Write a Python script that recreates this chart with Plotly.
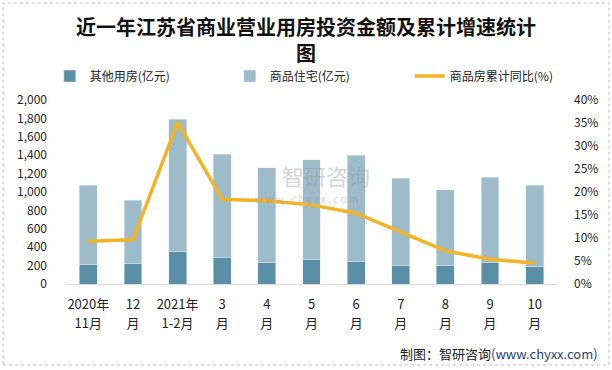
import plotly.graph_objects as go

categories = ["2020年<br>11月", "12<br>月", "2021年<br>1-2月", "3<br>月", "4<br>月", "5<br>月",
              "6<br>月", "7<br>月", "8<br>月", "9<br>月", "10<br>月"]
other_use = [217, 228, 348, 293, 239, 261, 250, 196, 206, 232, 185]
residential = [859, 685, 1445, 1120, 1022, 1087, 1152, 956, 816, 931, 888]
growth_pct = [9.3, 9.6, 35.1, 18.4, 18.1, 17.2, 15.4, 11.4, 7.2, 5.4, 4.5]

left_ticks = list(range(0, 2001, 200))
right_ticks = [0, 5, 10, 15, 20, 25, 30, 35, 40]
right_labels = [f"{v}%" for v in right_ticks]

FONT = "Noto Sans CJK SC"


def small(label):
    return "<br>".join(f"<span style='font-size:13px'>{part}</span>"
                       for part in label.split("<br>"))


x_ticktext = [small(c) for c in categories]

fig = go.Figure()
fig.add_trace(go.Bar(x=categories, y=other_use, name="其他用房(亿元)",
                     marker_color="#5B8FA7", width=0.4))
fig.add_trace(go.Bar(x=categories, y=residential, name="商品住宅(亿元)",
                     marker_color="#9DBBC9", width=0.4))
fig.add_trace(go.Scatter(x=categories, y=growth_pct, name="商品房累计同比(%)",
                         mode="lines", line=dict(color="#F2B325", width=3.5),
                         yaxis="y2"))

fig.update_layout(
    width=612, height=370,
    barmode="stack",
    paper_bgcolor="white", plot_bgcolor="white",
    font=dict(family=FONT, size=12, color="#222222"),
    margin=dict(l=66, r=55, t=100, b=86, autoexpand=False),
    title=dict(text="<b>近一年江苏省商业营业用房投资金额及累计增速统计<br>图</b>",
               x=0.5, xanchor="center", y=0.905, yanchor="top",
               font=dict(family=FONT, size=20, color="#111111")),
    showlegend=True,
    legend=dict(orientation="h", xref="paper", x=-0.033, xanchor="left",
                y=1.13, yanchor="middle",
                entrywidth=135, entrywidthmode="pixels", traceorder="normal",
                font=dict(size=12), bgcolor="rgba(0,0,0,0)"),
    xaxis=dict(showline=True, linecolor="#D9D9D9", linewidth=1, ticks="",
               showgrid=False, tickfont=dict(size=14.5), ticklabelstandoff=7,
               tickvals=categories, ticktext=x_ticktext),
    yaxis=dict(range=[0, 2000], tickvals=left_ticks, tickformat=",",
               showgrid=False, zeroline=False, showline=False,
               ticklabelstandoff=18, tickfont=dict(size=12)),
    yaxis2=dict(range=[0, 40], tickvals=right_ticks, ticktext=right_labels,
                overlaying="y", side="right", showgrid=False, zeroline=False,
                showline=False, ticklabelstandoff=16, tickfont=dict(size=12)),
    annotations=[
        dict(text="制图：智研咨询<span style='color:#1F3F73'>(www.chyxx.com)</span>",
             xref="paper", yref="paper",
             x=1.088, y=-0.375, xanchor="right", yanchor="middle", showarrow=False,
             font=dict(size=13, color="#222222")),
        dict(text="智研咨询", xref="paper", yref="paper", x=0.53, y=0.59,
             xanchor="center", yanchor="middle", showarrow=False,
             font=dict(size=22, color="rgba(150,160,170,0.45)")),
        dict(text="w w w . c h y x x . c o m", xref="paper", yref="paper", x=0.49, y=0.465,
             xanchor="center", yanchor="middle", showarrow=False,
             font=dict(size=10, color="rgba(150,160,170,0.45)")),
    ],
    shapes=[dict(type="rect", xref="paper", yref="paper",
                 x0=-0.128, x1=1.106, y0=-0.44, y1=1.527,
                 line=dict(color="#BBBBBB", width=1, dash="dot"))],
)

fig.write_html("out.html", config={"displayModeBar": False},
               post_script="document.body.style.margin='0';")
